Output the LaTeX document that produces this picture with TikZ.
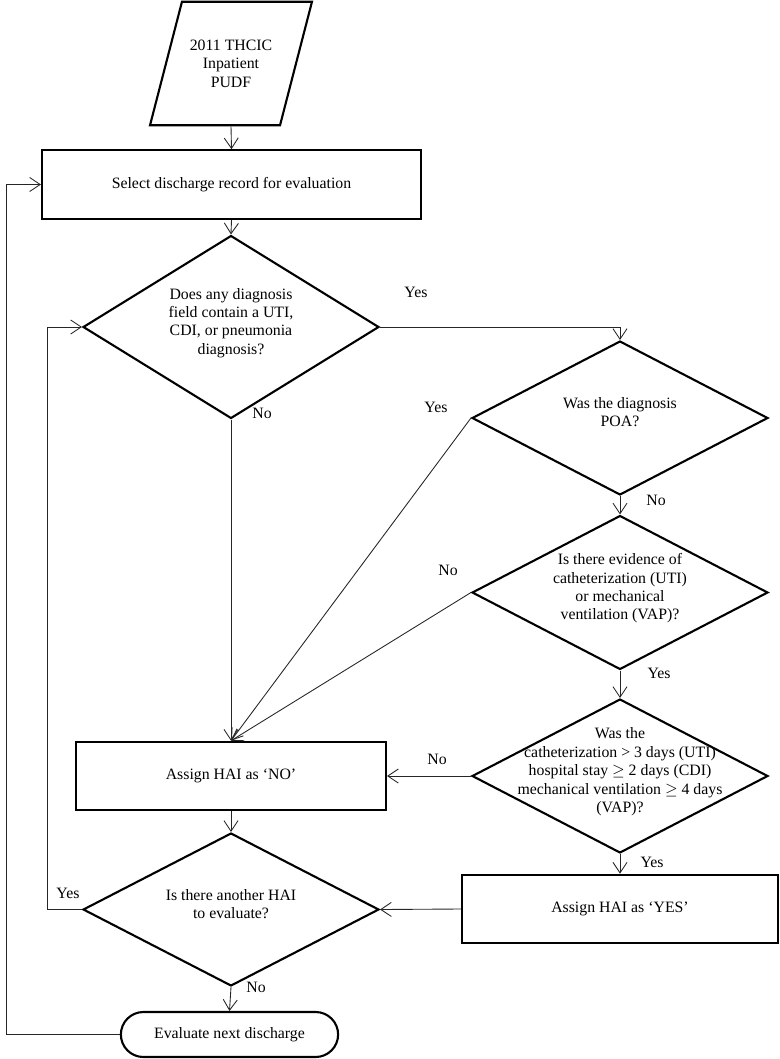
\documentclass[tikz,border=0pt]{standalone}
\usepackage{fontspec}
\setmainfont{Liberation Serif}
\usetikzlibrary{shapes.geometric,shapes.misc,arrows.meta,positioning}
\newcommand{\flowfont}{\fontsize{9}{10.5}\selectfont}
\newcommand{\dectext}[1]{\smash{\makebox[0pt]{\begin{tabular}{@{}c@{}}#1\end{tabular}}}}
\tikzset{
  procbox/.style={
    rectangle, draw, line width=1.2pt,
    minimum height=1.37cm, font=\flowfont
  },
  decbox/.style={
    diamond, draw, line width=1.2pt, inner sep=0pt,
    minimum width=5.92cm, minimum height=3.08cm, font=\flowfont
  },
  databox/.style={
    trapezium, trapezium left angle=75.5, trapezium right angle=104.5,
    trapezium stretches body, draw, line width=1.2pt,
    inner ysep=0.76cm, minimum width=3.24cm, align=center,
    font=\flowfont
  },
  endbox/.style={
    rounded rectangle, draw, line width=1.2pt,
    minimum width=4.58cm, minimum height=0.9cm, font=\flowfont
  },
  flowline/.style={-{Straight Barb[length=6pt,width=8pt]}, line width=0.5pt, black!85},
  answer/.style={font=\flowfont}
}

\begin{document}
\begin{tikzpicture}[x=0.02cm, y=-0.02cm]
  \useasboundingbox (0,0) rectangle (779,1059);

  % Input and selection
  \node[databox] (pudf) at (231,63.5) {2011 THCIC\\Inpatient\\PUDF};
  \node[procbox, minimum width=7.58cm] (select) at (231.5,184.5) {Select discharge record for evaluation};

  % Decisions
  \node[decbox, minimum height=3.66cm] (anydx) at (231,327)
    {\dectext{Does any diagnosis\\field contain a UTI,\\CDI, or pneumonia\\diagnosis?}};
  \node[decbox] (poa) at (620,418) {\dectext{Was the diagnosis\\POA?}};
  \node[decbox] (device) at (620,592.5)
    {\dectext{Is there evidence of\\catheterization (UTI)\\or mechanical\\ventilation (VAP)?}};
  \node[decbox] (days) at (620,776)
    {\dectext{Was the\\catheterization > 3 days (UTI)\\hospital stay $\geq$ 2 days (CDI)\\mechanical ventilation $\geq$ 4 days\\(VAP)?}};

  % Assignments
  \node[procbox, minimum width=6.2cm] (haino) at (231,776) {Assign HAI as ‘NO’};
  \node[procbox, minimum width=6.32cm] (haiyes) at (620,909) {Assign HAI as ‘YES’};

  % Loop control
  \node[decbox, minimum height=3.06cm] (another) at (231,909.5)
    {\dectext{Is there another HAI\\to evaluate?}};
  \node[endbox] (nextdis) at (229.5,1034.5) {Evaluate next discharge};

  % Main flow
  \draw[flowline] (pudf.south) -- (select.north);
  \draw[flowline] (select.south) -- (anydx.north);
  \draw[flowline] (anydx.east) -| (poa.north);
  \draw[flowline] (anydx.south) -- (haino.north);
  \draw[flowline] (poa.west) -- (haino.north);
  \draw[flowline] (poa.south) -- (device.north);
  \draw[flowline] (device.west) -- (haino.north);
  \draw[flowline] (device.south) -- (days.north);
  \draw[flowline] (days.west) -- (haino.east);
  \draw[flowline] (days.south) -- (haiyes.north);
  \draw[flowline] (haiyes.west) -- (another.east);
  \draw[flowline] (haino.south) -- (another.north);
  \draw[flowline] (another.south) -- (nextdis.north);

  % Loops back
  \draw[flowline] (another.west) -- ++(-35,0) |- (anydx.west);
  \draw[flowline] (nextdis.west) -- ++(-113,0) |- (select.west);

  % Answers
  \node[answer] (ansy1) at (416,292) {Yes};
  \node[answer] (ansn1) at (262,413) {No};
  \node[answer] (ansy2) at (436,407) {Yes};
  \node[answer] (ansn2) at (656,500) {No};
  \node[answer] (ansn3) at (448,570) {No};
  \node[answer] (ansy3) at (659,673) {Yes};
  \node[answer] (ansn4) at (437,759) {No};
  \node[answer] (ansy4) at (652,862) {Yes};
  \node[answer] (ansy5) at (68,893) {Yes};
  \node[answer] (ansn5) at (256,987) {No};
\end{tikzpicture}
\end{document}
